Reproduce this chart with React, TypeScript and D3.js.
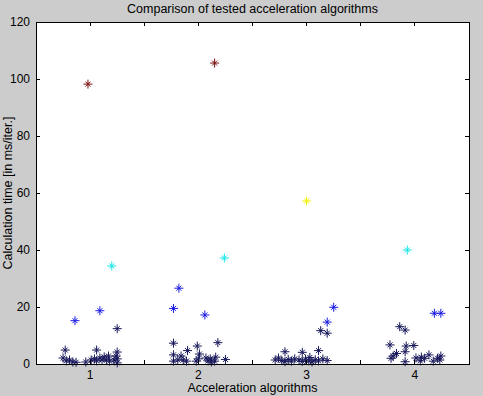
import React from 'react';
import * as d3 from 'd3';

// algorithm index (with jitter) and time in ms/iter., one list per marker colour
const navy: [number, number][] = [
  [0.77, 4.9], [0.75, 2.1], [0.78, 1.1], [0.81, 1.4], [0.84, 0.7], [0.87, 0.6],
  [0.96, 0.7], [1.01, 1.4], [1.04, 1.8], [1.06, 1.1], [1.09, 2.1], [1.11, 1.4],
  [1.13, 2.5], [1.15, 1.4], [1.17, 2.8], [1.18, 1.0], [1.22, 1.4], [1.24, 2.8],
  [1.25, 1.8], [1.25, 4.2], [1.25, 0.4], [1.06, 4.9], [1.25, 12.4],
  [1.77, 7.3], [1.99, 6.3], [2.18, 7.5], [1.90, 4.7], [1.77, 3.2], [1.84, 2.8],
  [2.01, 3.5], [2.16, 2.4], [2.25, 1.6], [1.77, 1.0], [1.81, 1.4], [1.89, 1.0],
  [1.98, 1.0], [2.09, 1.1], [2.12, 0.7], [2.15, 1.0], [2.07, 2.1], [2.11, 1.8],
  [2.00, 1.8], [1.86, 1.4],
  [3.13, 11.7], [3.19, 10.8], [2.80, 4.3], [2.96, 4.1], [3.11, 4.7],
  [2.74, 2.1], [2.77, 1.2], [2.80, 0.8], [2.83, 1.6], [2.86, 1.0], [2.89, 1.8],
  [2.93, 1.4], [2.96, 0.9], [2.99, 1.7], [3.02, 1.1], [3.05, 0.7], [3.08, 1.5],
  [3.11, 1.1], [3.15, 1.8], [3.19, 1.2], [2.71, 1.4], [3.03, 2.3],
  [3.86, 13.1], [3.91, 11.9], [3.77, 6.7], [3.92, 6.3], [3.99, 6.5],
  [3.83, 3.7], [3.91, 4.3], [3.78, 2.0], [3.80, 2.8], [3.91, 0.8], [4.01, 2.1],
  [4.06, 2.4], [4.09, 2.0], [4.13, 3.2], [4.21, 2.0], [4.24, 2.8], [4.23, 1.4],
  [4.17, 1.0], [4.05, 1.1]
];
const blue: [number, number][] = [
  [0.86, 15.2], [1.09, 18.7],
  [1.82, 26.6], [1.77, 19.5], [2.06, 17.2],
  [3.25, 19.9], [3.19, 14.7],
  [4.18, 17.8], [4.24, 17.8]
];
const cyan: [number, number][] = [[1.20, 34.4], [2.24, 37.2], [3.93, 40.0]];
const yellow: [number, number][] = [[3.0, 57.2]];
const darkRed: [number, number][] = [[0.98, 98.2], [2.15, 105.6]];

const xTicks = [1, 1.5, 2, 2.5, 3, 3.5, 4];
const xLabels = [1, 2, 3, 4];
const yTicks = [0, 20, 40, 60, 80, 100, 120];

const W = 483, H = 396;
const left = 36, right = 469, top = 22, bottom = 364;
const font = 'Liberation Sans, Arial, sans-serif';

const x = d3.scaleLinear().domain([0.5, 4.5]).range([left, right]);
const y = d3.scaleLinear().domain([0, 120]).range([bottom, top]);

// MATLAB style '*' marker
const star = 'M0,-4.5V4.5M-4.5,0H4.5M-2.5,-2.5L2.5,2.5M-2.5,2.5L2.5,-2.5';

const Points = ({ data, color }: { data: [number, number][]; color: string }) => (
  <g stroke={color} strokeWidth={1} fill="none">
    {data.map((d, i) => (
      <path key={i} d={star} transform={`translate(${x(d[0])},${y(d[1])})`} />
    ))}
  </g>
);

export default function App() {
  const tl = 4;
  return (
    <div style={{ position: 'absolute', left: 0, top: 0 }}>
      <svg width={W} height={H} style={{ display: 'block' }}>
        <rect width={W} height={H} fill="#cccccc" />
        <rect x={left} y={top} width={right - left} height={bottom - top} fill="#ffffff" />

        <Points data={navy} color="#16165a" />
        <Points data={blue} color="#1a1ae0" />
        <Points data={cyan} color="#18e6e6" />
        <Points data={yellow} color="#f0f000" />
        <Points data={darkRed} color="#7a1010" />

        <rect x={left} y={top} width={right - left} height={bottom - top} fill="none" stroke="#000" strokeWidth={1} shapeRendering="crispEdges" />
        <g stroke="#000" strokeWidth={1} shapeRendering="crispEdges">
          {xTicks.map(t => (
            <g key={t}>
              <line x1={x(t)} x2={x(t)} y1={bottom} y2={bottom - tl} />
              <line x1={x(t)} x2={x(t)} y1={top} y2={top + tl} />
            </g>
          ))}
          {yTicks.map(t => (
            <g key={t}>
              <line x1={left} x2={left + tl} y1={y(t)} y2={y(t)} />
              <line x1={right} x2={right - tl} y1={y(t)} y2={y(t)} />
            </g>
          ))}
        </g>
        <g fontFamily={font} fontSize={12} fill="#000">
          {xLabels.map(t => (
            <text key={t} x={x(t)} y={bottom + 15} textAnchor="middle">{t}</text>
          ))}
          {yTicks.map(t => (
            <text key={t} x={left - 6} y={y(t) + 4} textAnchor="end">{t}</text>
          ))}
          <text x={(left + right) / 2} y={13} textAnchor="middle" fontSize={12.5}>Comparison of tested acceleration algorithms</text>
          <text x={(left + right) / 2} y={392} textAnchor="middle" fontSize={12.5}>Acceleration algorithms</text>
          <text transform={`translate(12,${(top + bottom) / 2}) rotate(-90)`} textAnchor="middle" fontSize={12.5}>Calculation time [in ms/iter.]</text>
        </g>
      </svg>
    </div>
  );
}
